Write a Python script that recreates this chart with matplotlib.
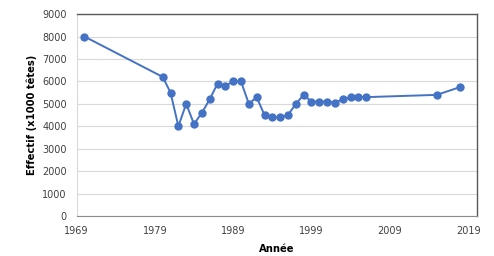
import matplotlib
matplotlib.use('Agg')
import matplotlib.pyplot as plt

# Effectif par année
annees = [1970] + list(range(1980, 2007)) + [2015, 2018]
effectif = [8000,
            6200, 5500, 4000, 5000, 4100, 4600, 5200, 5900, 5800, 6000,
            6000, 5000, 5300, 4500, 4400, 4400, 4500, 5000, 5400, 5100,
            5100, 5100, 5050, 5200, 5300, 5300, 5300,
            5400, 5750]
xticks = [1969, 1979, 1989, 1999, 2009, 2019]
yticks = list(range(0, 9001, 1000))

fig = plt.figure(figsize=(4.94, 2.56), dpi=100)
ax = fig.add_axes([0.155, 0.156, 0.81, 0.789])

ax.plot(annees, effectif, color='#4472C4', linewidth=1.4, marker='o',
        markersize=5, zorder=3)

ax.set_xlim(1969, 2020.1)
ax.set_ylim(0, 9000)
ax.set_xticks(xticks)
ax.set_yticks(yticks)
ax.tick_params(length=0, labelsize=7, labelcolor='#404040')
ax.tick_params(axis='x', pad=7)
ax.tick_params(axis='y', pad=7)
ax.grid(axis='y', color='#d9d9d9', linewidth=0.8)
ax.set_axisbelow(True)

for s in ['top', 'right']:
    ax.spines[s].set_color('#595959')
    ax.spines[s].set_linewidth(1.0)
ax.spines['bottom'].set_color('#8c8c8c')
ax.spines['left'].set_color('#d9d9d9')

ax.set_xlabel('Année', fontsize=7.2, fontweight='bold')
ax.set_ylabel('Effectif (x1000 têtes)', fontsize=7.2, fontweight='bold')
ax.xaxis.set_label_coords(0.5, -0.14)
ax.yaxis.set_label_coords(-0.10, 0.5)

fig.savefig('out.png', dpi=100)
